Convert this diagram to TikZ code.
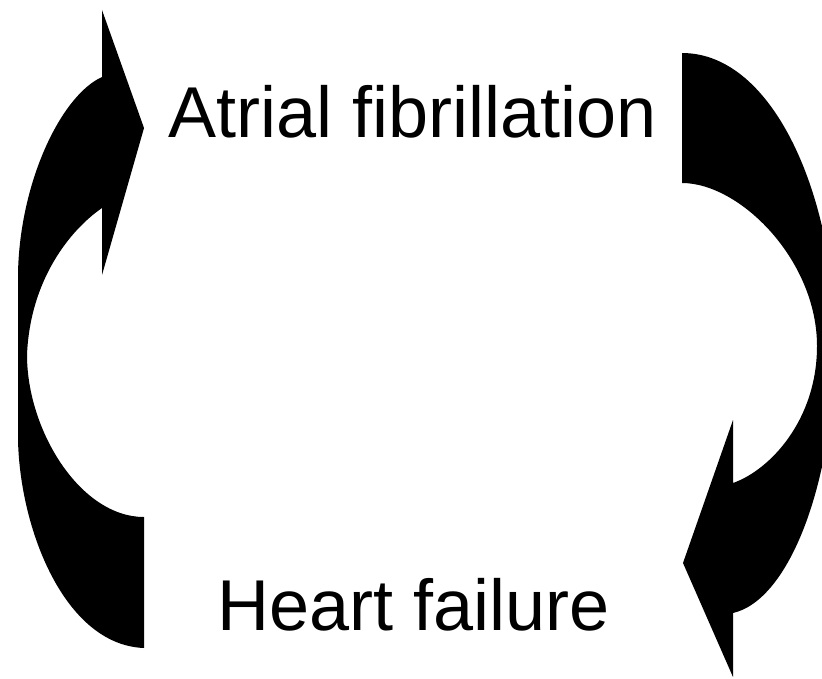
\documentclass[tikz,border=0pt]{standalone}
\usepackage{fontspec}
\setmainfont{Liberation Sans}
\usetikzlibrary{positioning}

\begin{document}
\begin{tikzpicture}[
  x=1pt, y=-1pt,
  label/.style={inner sep=0pt, anchor=base west, font=\fontsize{72}{86}\selectfont},
  bigarrow/.style={fill=black, draw=none}
]
  \useasboundingbox (0,0) rectangle (822,678);
  \clip (0,0) rectangle (822,678);

  % Nodes
  \node[label] (af) at (168,137) {Atrial fibrillation};
  \node[label] (hf) at (217,630) {Heart failure};

  % Left arrow: heart failure -> atrial fibrillation
  \fill[bigarrow] (144,128) -- (102,10) -- (102,77)
    .. controls (62,95) and (20,180) .. (18,273)
    -- (18,440)
    .. controls (20,530) and (65,645) .. (144,648)
    -- (144,517)
    .. controls (80,517) and (27,430) .. (27,355)
    .. controls (30,280) and (70,230) .. (102,208)
    -- (102,275) -- cycle;

  % Right arrow: atrial fibrillation -> heart failure
  \fill[bigarrow] (682,53) -- (682,183)
    .. controls (740,183) and (817,260) .. (817,346)
    .. controls (817,420) and (770,470) .. (733,483)
    -- (733,420) -- (683,563) -- (733,677) -- (733,613)
    .. controls (790,600) and (835,480) .. (835,340)
    .. controls (835,200) and (775,53) .. (682,53)
    -- cycle;
\end{tikzpicture}
\end{document}
